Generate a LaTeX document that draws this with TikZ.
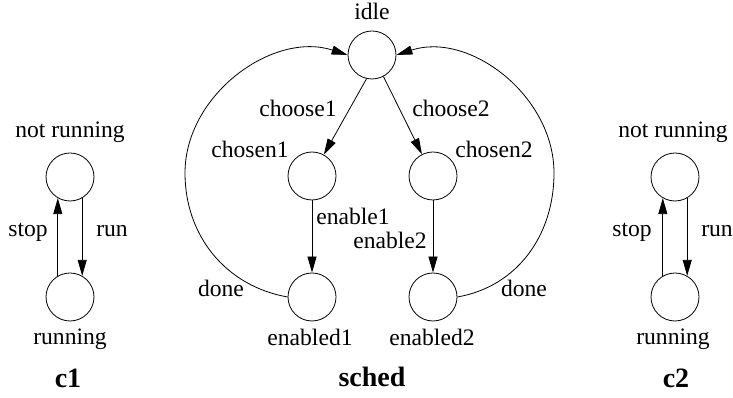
\documentclass[tikz,border=0pt]{standalone}
\usepackage{fontspec}
\setmainfont{Liberation Serif}
\usetikzlibrary{arrows.meta}

\begin{document}
\begin{tikzpicture}[x=1pt,y=1pt,line width=0.8pt,
        font=\fontsize{23.6}{28}\selectfont,
        circ/.style={draw,circle,minimum size=48pt,inner sep=0pt},
        lbl/.style={anchor=base,inner sep=0pt},
        ttl/.style={anchor=base,inner sep=0pt,font=\fontsize{28}{32}\selectfont\bfseries},
        >={Triangle[length=16pt,width=9pt]}]
        \useasboundingbox (0,0) rectangle (733,398);

        % c1
        \node[circ] (nr1) at (70,221) {};
        \node[circ] (r1) at (70,101) {};
        \node[lbl] (tnr1) at (70,260) {not running};
        \node[lbl] (tr1) at (70,53) {running};
        \node[lbl] (stop1) at (28,161) {stop};
        \node[lbl] (run1) at (112,161) {run};
        \node[ttl] (c1) at (68,10) {c1};

        % c2
        \node[circ] (nr2) at (675,221) {};
        \node[circ] (r2) at (675,101) {};
        \node[lbl] (tnr2) at (673,260) {not running};
        \node[lbl] (tr2) at (673,53) {running};
        \node[lbl] (stop2) at (632,161) {stop};
        \node[lbl] (run2) at (717,161) {run};
        \node[ttl] (c2) at (676,10) {c2};

        % sched
        \node[circ] (idle) at (372,343) {};
        \node[circ] (ch1) at (312,222) {};
        \node[circ] (ch2) at (433,222) {};
        \node[circ] (en1) at (312,101) {};
        \node[circ] (en2) at (433,101) {};
        \coordinate (lft) at (185,225);
        \coordinate (rgt) at (554,225);

        \node[lbl] (tidle) at (372,378) {idle};
        \node[lbl] (tch1) at (250,240) {chosen1};
        \node[lbl] (tch2) at (494,240) {chosen2};
        \node[lbl] (tcs1) at (298,281) {choose1};
        \node[lbl] (tcs2) at (451,281) {choose2};
        \node[lbl] (teb1) at (353,173) {enable1};
        \node[lbl] (teb2) at (390,149) {enable2};
        \node[lbl] (ten1) at (310,52) {enabled1};
        \node[lbl] (ten2) at (432,52) {enabled2};
        \node[lbl] (dn1) at (221,101) {done};
        \node[lbl] (dn2) at (524,101) {done};
        \node[ttl] (sched) at (372,11) {sched};

        % Линии
        \draw[->] (r1.120) -- (nr1.240);
        \draw[->] (nr1.-60) -- (r1.60);
        \draw[->] (r2.120) -- (nr2.240);
        \draw[->] (nr2.-60) -- (r2.60);

        \draw[->] (idle.-103) -- (ch1.61);
        \draw[->] (idle.-62) -- (ch2.117);
        \draw[->] (ch1) -- (en1);
        \draw[->] (ch2) -- (en2);

        \draw[->] (en1.west) to[out=170,in=-90] (lft) to[out=90,in=162] (idle.west);
        \draw[->] (en2.east) to[out=10,in=-90] (rgt) to[out=90,in=18] (idle.east);
\end{tikzpicture}
\end{document}
